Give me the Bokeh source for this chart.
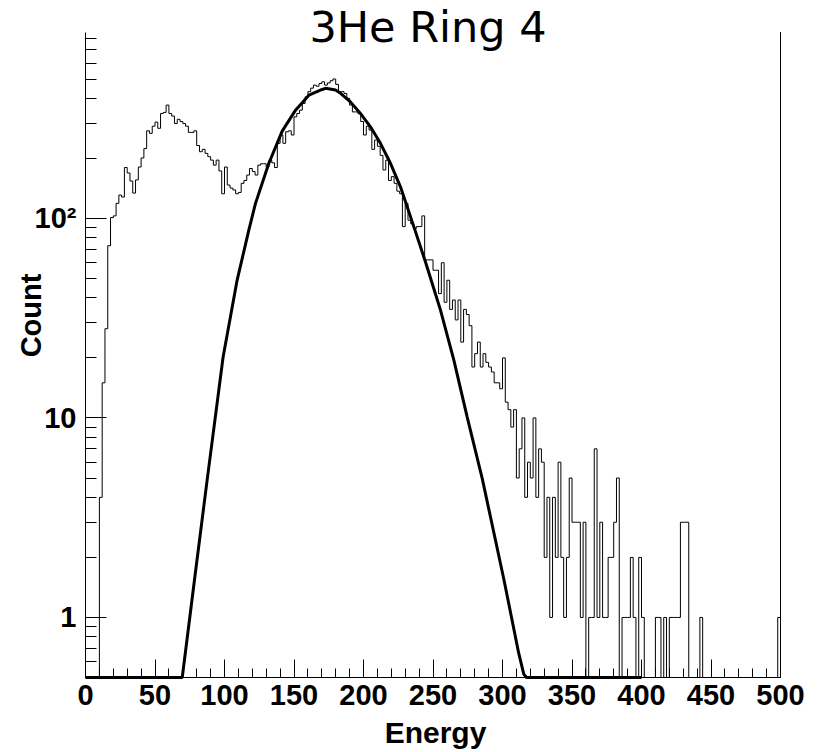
import math
from bokeh.plotting import figure
from bokeh.models import Range1d, SingleIntervalTicker, FixedTicker, Label
from bokeh.embed import file_html
from bokeh.resources import INLINE

# ---------------- data ----------------
title_text = "3He Ring 4"
x_label = "Energy"
y_label = "Count"

bin_width = 2
bin_edges = list(range(0, 502, bin_width))          # 0..500, 250 bins
counts = [
    0, 0, 0, 0, 0, 4, 15, 28, 73, 101,
    103, 119, 131, 128, 180, 169, 154, 134, 156, 181,
    201, 224, 275, 267, 290, 304, 283, 336, 340, 370,
    336, 326, 299, 314, 306, 299, 290, 270, 270, 275,
    232, 216, 222, 212, 204, 196, 185, 196, 173, 133,
    181, 147, 142, 139, 133, 135, 150, 155, 165, 178,
    172, 165, 185, 188, 188, 181, 196, 190, 180, 238,
    262, 238, 272, 275, 262, 323, 336, 349, 377, 407,
    432, 450, 466, 460, 475, 484, 466, 478, 490, 500,
    470, 432, 432, 423, 400, 370, 342, 342, 335, 306,
    262, 290, 277, 222, 247, 230, 207, 175, 196, 155,
    162, 150, 137, 133, 91, 119, 98, 94, 89, 91,
    91, 103, 62, 62, 62, 55, 55, 42, 60, 38,
    49, 35, 39, 31, 39, 24, 35, 33, 29, 18,
    21, 24, 18, 21, 19, 18, 17, 15, 15, 14,
    20, 12, 11, 9, 11, 5, 7, 10, 4, 6,
    5, 10, 4, 7, 6, 2, 4, 1, 4, 2,
    6, 2, 1, 2, 5, 3, 3, 3, 1, 3,
    0, 1, 1, 7, 1, 3, 1, 1, 2, 2,
    3, 5, 0, 1, 1, 1, 2, 1, 0, 2,
    1, 0, 0, 0, 0, 1, 1, 0, 1, 0,
    1, 1, 1, 1, 3, 3, 3, 0, 0, 0,
    0, 1, 0, 0, 0, 0, 0, 0, 0, 0,
    0, 0, 0, 0, 0, 0, 0, 0, 0, 0,
    0, 0, 0, 0, 0, 0, 0, 0, 0, 1,
]

# fitted curve (drawn at the floor outside its support)
fit_x = [0, 69.6, 78.4, 87.5, 99, 109.1, 117.5, 122.3, 131.9, 141.5, 151.1,
         160.7, 170.3, 172.7, 179.9, 183.5, 190.6, 197.8, 205, 212.2, 219.4,
         226.6, 236.2, 244.6, 255.4, 265, 274.6, 285.4, 301, 311.7, 315.3,
         317.3, 400]
fit_y = [0.5, 0.5, 1.54, 4.88, 20.2, 49.1, 87.3, 119, 189, 274, 349,
         415, 443, 449, 440, 424, 384, 336, 288, 238, 189,
         144, 91, 60.5, 34.7, 19.5, 10.1, 4.98, 1.55, 0.66, 0.52,
         0.5, 0.5]

x_ticks_interval = 50
y_major_ticks = [1, 10, 100]
y_tick_labels = {1: "1", 10: "10", 100: "10\u00b2"}

x_min, x_max = 0, 500
y_min, y_max = 0.5, 860

# ---------------- layout constants (pixels) ----------------
W, H = 822, 752
axis_left_px = 85          # where x = 0 sits
axis_bottom_px = 677       # where y = y_min sits
px_per_unit = 1.39
px_per_decade = 199.5


def x_at(px):
    return x_min + (px - axis_left_px) / px_per_unit


def y_at(py):
    return 10 ** (math.log10(y_min) + (axis_bottom_px - py) / px_per_decade)


# ---------------- figure ----------------
p = figure(width=W, height=H, title=None,
           x_range=Range1d(x_at(0), x_at(W)), y_range=Range1d(y_at(H), y_at(0)),
           y_axis_type="log", output_backend="svg", toolbar_location=None,
           min_border_left=0, min_border_right=0,
           min_border_top=0, min_border_bottom=0)
p.outline_line_color = None
p.background_fill_color = "white"
p.border_fill_color = "white"
p.xgrid.visible = False
p.ygrid.visible = False

# histogram outline (zero bins drawn on the floor, as ROOT does)
hx, hy = [bin_edges[0]], [y_min]
for i, c in enumerate(counts):
    v = c if c > 0 else y_min
    hx += [bin_edges[i], bin_edges[i + 1]]
    hy += [v, v]
hx.append(bin_edges[-1])
hy.append(y_min)
p.line(hx, hy, line_color="black", line_width=1)

# fit
p.line(fit_x, fit_y, line_color="black", line_width=3)

# right frame edge
p.segment(x0=[x_max], y0=[y_min], x1=[x_max], y1=[y_max],
          line_color="black", line_width=1)

# axes (pinned at the data origin, limited to the data range)
tick_font = "Liberation Sans"
for ax in (p.xaxis, p.yaxis):
    ax.axis_line_color = "black"
    ax.major_tick_line_color = "black"
    ax.minor_tick_line_color = "black"
    ax.major_tick_out = 0
    ax.minor_tick_out = 0
    ax.major_label_text_font = tick_font
    ax.major_label_text_font_style = "bold"
    ax.major_label_text_font_size = "29px"
    ax.major_label_text_color = "black"

p.xaxis.fixed_location = y_min
p.xaxis.bounds = (x_min, x_max)
p.xaxis.ticker = SingleIntervalTicker(interval=x_ticks_interval, num_minor_ticks=5)
p.xaxis.major_tick_in = 18
p.xaxis.minor_tick_in = 9
p.xaxis.major_label_standoff = 7

minor = [m * 10 ** k for k in (-1, 0, 1, 2) for m in range(2, 10)]
minor = [v for v in minor if y_min < v <= y_max]
p.yaxis.fixed_location = x_min
p.yaxis.bounds = (y_min, y_max)
p.yaxis.ticker = FixedTicker(ticks=y_major_ticks, minor_ticks=minor)
p.yaxis.major_tick_in = 21
p.yaxis.minor_tick_in = 11
p.yaxis.major_label_standoff = 9
p.yaxis.major_label_overrides = y_tick_labels

# texts
p.add_layout(Label(x=x_at(427.5), y=y_at(26), text=title_text, text_font="DejaVu Sans",
                   text_font_size="43px", text_color="black",
                   text_align="center", text_baseline="alphabetic"))
p.add_layout(Label(x=x_at(435), y=y_at(732), text=x_label, text_font=tick_font,
                   text_font_style="bold", text_font_size="30px", text_color="black",
                   text_align="center", text_baseline="alphabetic"))
p.add_layout(Label(x=x_at(30), y=y_at(315), text=y_label, text_font=tick_font,
                   text_font_style="bold", text_font_size="29px", text_color="black",
                   text_align="center", text_baseline="alphabetic",
                   angle=math.pi / 2, angle_units="rad"))

open("out.html", "w").write(file_html(p, INLINE))
